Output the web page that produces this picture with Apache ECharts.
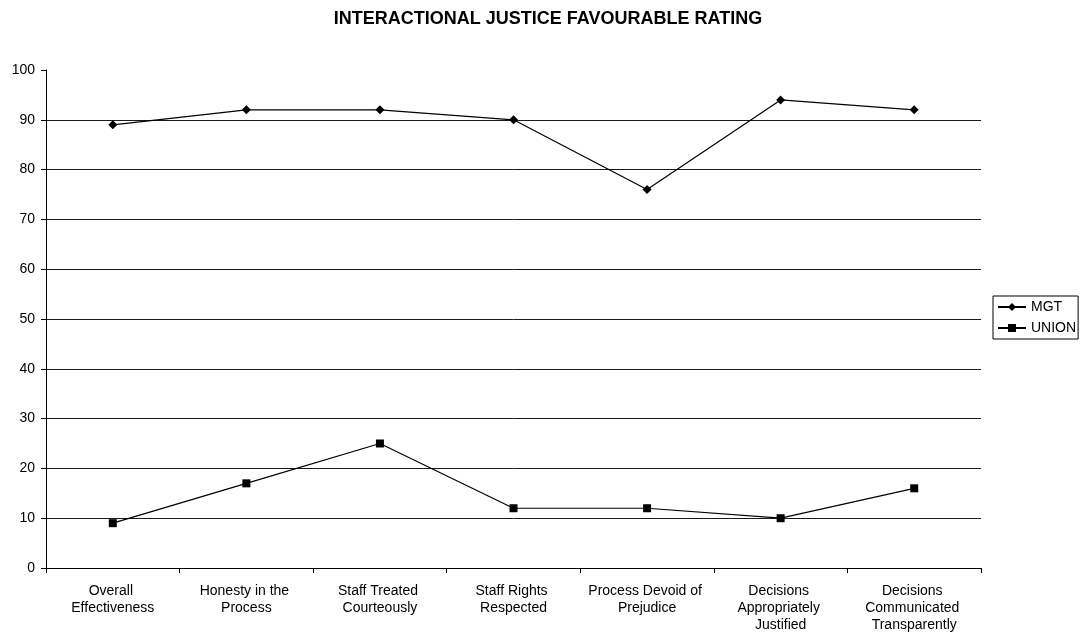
<!DOCTYPE html>
<html>
<head>
<meta charset="utf-8">
<script src="https://cdn.jsdelivr.net/npm/echarts@6/dist/echarts.min.js"></script>
<style>
  html, body { margin: 0; padding: 0; background: #fff; }
  #main { width: 1081px; height: 643px; }
</style>
</head>
<body>
<div id="main"></div>
<script>
// chart data
const categories = [
  "Overall Effectiveness",
  "Honesty in the Process",
  "Staff Treated Courteously",
  "Staff Rights Respected",
  "Process Devoid of Prejudice",
  "Decisions Appropriately Justified",
  "Decisions Communicated Transparently"
];
const mgtValues = [89, 92, 92, 90, 76, 94, 92];
const unionValues = [9, 17, 25, 12, 12, 10, 16];

const FONT = "'Liberation Sans', Arial, sans-serif";

let myChart = echarts.init(document.getElementById("main"));

// gridline at 100 is not drawn in the original
let gridColors = [];
for (let i = 0; i <= 10; i++) gridColors.push(i === 10 ? "rgba(0,0,0,0)" : "#1a1a1a");

let option = {
  animation: false,
  backgroundColor: "#fff",
  title: {
    text: "INTERACTIONAL JUSTICE FAVOURABLE RATING",
    left: 543,
    textAlign: "center",
    top: 5,
    textStyle: { fontFamily: FONT, fontSize: 18, fontWeight: "bold", color: "#000" }
  },
  legend: {
    orient: "vertical",
    left: 993,
    top: 296,
    padding: [4, 2, 4, 4],
    itemGap: 7,
    itemWidth: 28,
    itemHeight: 10,
    borderColor: "#000",
    borderWidth: 1,
    textStyle: { fontFamily: FONT, fontSize: 14, color: "#000" },
    data: ["MGT", "UNION"]
  },
  grid: { left: 46, right: 100, top: 70, bottom: 75 },
  xAxis: {
    type: "category",
    data: categories,
    boundaryGap: true,
    axisLine: { lineStyle: { color: "#000", width: 1 } },
    axisTick: { show: true, inside: false, length: 5, lineStyle: { color: "#000" } },
    axisLabel: {
      interval: 0,
      margin: 15,
      width: 122,
      overflow: "break",
      lineHeight: 17,
      fontFamily: FONT,
      fontSize: 14,
      color: "#000"
    },
    splitLine: { show: false }
  },
  yAxis: {
    type: "value",
    min: 0,
    max: 100,
    interval: 10,
    axisLine: { show: true, lineStyle: { color: "#000", width: 1 } },
    axisTick: { show: true, length: 5, lineStyle: { color: "#000" } },
    axisLabel: { margin: 11, fontFamily: FONT, fontSize: 14, color: "#000" },
    splitLine: { show: true, lineStyle: { color: gridColors, width: 1 } }
  },
  series: [
    {
      name: "MGT",
      type: "line",
      data: mgtValues,
      symbol: "diamond",
      symbolSize: 9,
      itemStyle: { color: "#000" },
      lineStyle: { color: "#000", width: 1.2 }
    },
    {
      name: "UNION",
      type: "line",
      data: unionValues,
      symbol: "rect",
      symbolSize: 8,
      itemStyle: { color: "#000" },
      lineStyle: { color: "#000", width: 1.2 }
    }
  ]
};

myChart.setOption(option);
</script>
</body>
</html>
